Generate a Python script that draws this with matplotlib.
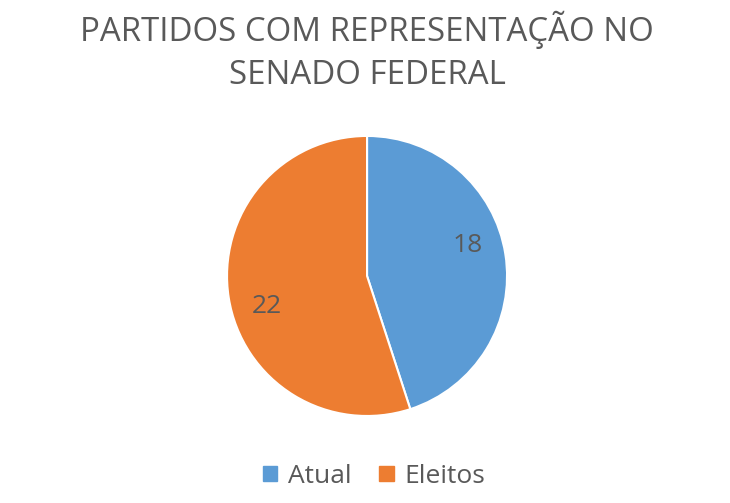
import numpy as np
import matplotlib.pyplot as plt
from matplotlib.patches import Patch

# data
categorias = ["Atual", "Eleitos"]
valores = [18, 22]
cores = ["#5B9BD5", "#ED7D31"]
titulo = "PARTIDOS COM REPRESENTAÇÃO NO\nSENADO FEDERAL"

plt.rcParams['font.family'] = ['Open Sans', 'DejaVu Sans']
texto = "#595959"

fig = plt.figure(figsize=(7.3, 5.03), dpi=100)
fig.patch.set_facecolor("white")

fig.text(0.503, 0.978, titulo, ha="center", va="top", fontsize=23.8,
         color=texto, linespacing=1.38)

ax = fig.add_axes([0.311, 0.173, 0.3836, 0.5567])
wedges, _ = ax.pie(valores, colors=cores, startangle=90, counterclock=False,
                   wedgeprops=dict(edgecolor="white", linewidth=1.5))
# rotulos de dados, um pouco acima do meio de cada fatia (como no Excel)
for w, v in zip(wedges, valores):
    ang = np.deg2rad((w.theta1 + w.theta2) / 2 + 8)
    ax.text(0.75 * np.cos(ang), 0.75 * np.sin(ang), str(v), ha="center", va="center",
            fontsize=19, color=texto)
ax.set_xlim(-1, 1)
ax.set_ylim(-1, 1)
ax.set_aspect("equal")

handles = [Patch(facecolor=c, edgecolor=c) for c in cores]
leg = fig.legend(handles, categorias, loc="center", bbox_to_anchor=(0.512, 0.053),
                 ncol=2, frameon=False, fontsize=19, handlelength=0.55,
                 handleheight=0.55, handletextpad=0.4, columnspacing=1.05)
for t in leg.get_texts():
    t.set_color(texto)

fig.savefig("out.png", dpi=100)
